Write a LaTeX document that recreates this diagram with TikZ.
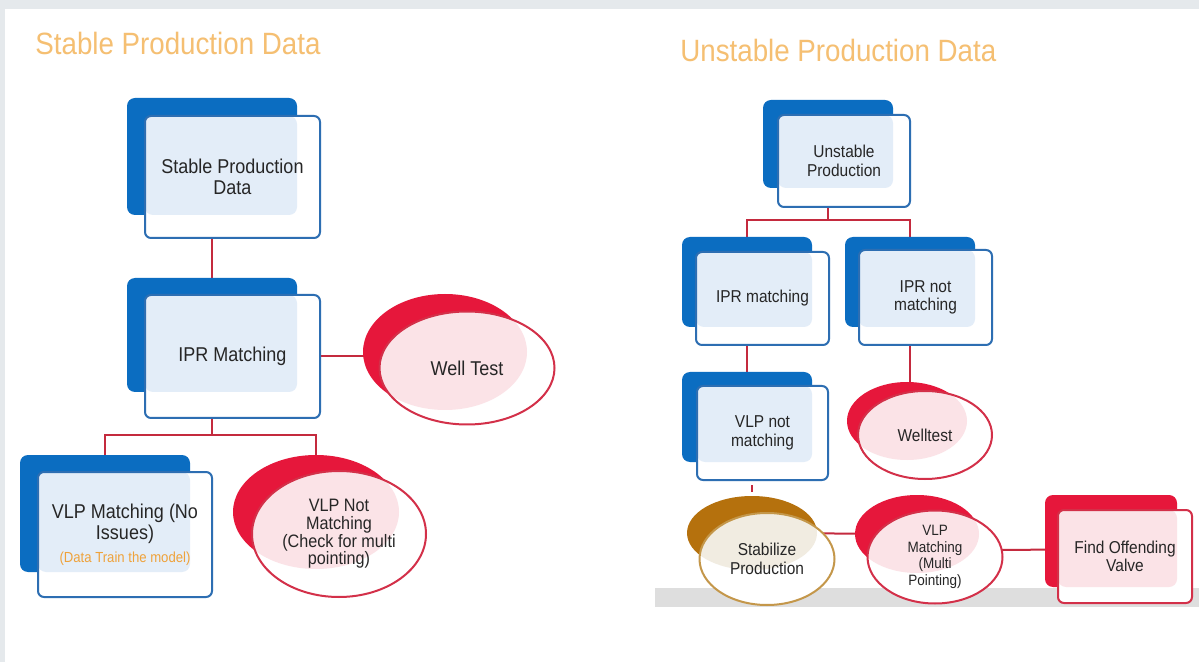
\documentclass[tikz,border=0pt]{standalone}
\usepackage{fontspec}
\setmainfont{Liberation Sans}[FakeStretch=0.9]
\usetikzlibrary{shapes.geometric, calc}
\usepackage{xcolor}

\definecolor{bluedeep}{HTML}{0B6DC1}
\definecolor{blueedge}{HTML}{2D6EB2}
\definecolor{bluepale}{HTML}{E3EDF8}
\definecolor{reddeep}{HTML}{E6173B}
\definecolor{rededge}{HTML}{D33049}
\definecolor{redpale}{HTML}{FBE3E7}
\definecolor{browndeep}{HTML}{B5710D}
\definecolor{goldedge}{HTML}{C4974A}
\definecolor{goldpale}{HTML}{F1ECE1}
\definecolor{linkred}{HTML}{C42A3E}
\definecolor{headorange}{HTML}{F5BF72}
\definecolor{noteorange}{HTML}{EFA23A}
\definecolor{inkgray}{HTML}{262626}
\definecolor{framegray}{HTML}{E5E9EC}
\definecolor{bargray}{HTML}{DEDEDE}

\pgfdeclarelayer{frame}
\pgfdeclarelayer{bg}
\pgfsetlayers{frame,bg,main}

\begin{document}
\begin{tikzpicture}[
    x=0.5pt, y=-0.5pt,
    wh/.style 2 args={minimum width=#1*0.5pt, minimum height=#2*0.5pt},
    backbox/.style={inner sep=0pt, outer sep=0pt, rounded corners=4pt},
    backoval/.style={ellipse, inner sep=0pt, outer sep=0pt},
    card/.style={inner sep=0pt, outer sep=0pt, rounded corners=3pt, fill=white, line width=1pt, align=center, text=inkgray},
    bluecard/.style={card, draw=blueedge, path picture={\fill[bluepale, rounded corners=4pt] (path picture bounding box.north west) rectangle (#1.south east);}},
    redcard/.style={card, draw=rededge, path picture={\fill[redpale, rounded corners=4pt] (path picture bounding box.north west) rectangle (#1.south east);}},
    oval/.style={ellipse, inner sep=0pt, outer sep=0pt, fill=white, line width=1pt, align=center, text=inkgray},
    redoval/.style={oval, draw=rededge, path picture={\fill[redpale] let \p1=($(#1.east)-(#1.center)$), \p2=($(#1.north)-(#1.center)$) in (#1.center) ellipse [x radius=\x1, y radius=\y2];}},
    goldoval/.style={oval, draw=goldedge, path picture={\fill[goldpale] let \p1=($(#1.east)-(#1.center)$), \p2=($(#1.north)-(#1.center)$) in (#1.center) ellipse [x radius=\x1, y radius=\y2];}},
    link/.style={draw=linkred, line width=1pt},
    heading/.style={anchor=base west, inner sep=0pt, text=headorange, font=\fontsize{15.4}{18}\selectfont},
    txtbig/.style={font=\fontsize{10}{10.5}\selectfont},
    txtmid/.style={font=\fontsize{9}{8.8}\selectfont},
    txtsmall/.style={font=\fontsize{8.6}{9.2}\selectfont},
    txttiny/.style={font=\fontsize{7.5}{8.3}\selectfont}
]
\useasboundingbox (0,0) rectangle (1199,662);

% page frame and floor bar
\begin{pgfonlayer}{frame}
\fill[framegray] (0,0) rectangle (1199,662);
\fill[white] (5,9) rectangle (1199,662);
\fill[bargray] (655,588) rectangle (1199,607);
\end{pgfonlayer}

\node[heading] (hstable) at (35,55) {Stable Production Data};
\node[heading] (hunstable) at (680,62) {Unstable Production Data};

% stable side
\node[backbox, fill=bluedeep, wh={170}{117}] (spdb) at (212,156.5) {};
\node[bluecard=spdb, wh={175}{122}, txtbig] (spd) at (232.5,177) {Stable Production\\Data};
\node[backbox, fill=bluedeep, wh={170}{114}] (iprb) at (212,335) {};
\node[bluecard=iprb, wh={175}{123}, txtbig] (ipr) at (232.5,356.5) {IPR Matching};
\node[backoval, fill=reddeep, wh={164}{116}] (wtb) at (445,352) {};
\node[redoval=wtb, wh={175}{113}, txtbig] (wt) at (467,368) {Well Test};
\node[backbox, fill=bluedeep, wh={170}{117}] (vmb) at (105,513.5) {};
\node[bluecard=vmb, wh={174}{125}, txtbig] (vm) at (125,534.5) {VLP Matching (No\\Issues)\\[1pt]{\color{noteorange}\fontsize{7.3}{8}\selectfont(Data Train the model)}};
\node[backoval, fill=reddeep, wh={166}{114}] (vnmb) at (316,512) {};
\node[redoval=vnmb, wh={174}{126}, txtmid] (vnm) at (339,534) {VLP Not\\Matching\\(Check for multi\\pointing)};

% unstable side
\node[backbox, fill=bluedeep, wh={130}{88}] (upb) at (828,144) {};
\node[bluecard=upb, wh={132}{92}, txtsmall] (up) at (844,161) {Unstable\\Production};
\node[backbox, fill=bluedeep, wh={130}{90}] (iprmb) at (747,282) {};
\node[bluecard=iprmb, wh={133}{93}, txtsmall] (iprm) at (762.5,298.5) {IPR matching};
\node[backbox, fill=bluedeep, wh={130}{90}] (iprnb) at (910,282) {};
\node[bluecard=iprnb, wh={133}{95}, txtsmall] (iprn) at (925.5,297.5) {IPR not\\matching};
\node[backbox, fill=bluedeep, wh={130}{90}] (vnmrb) at (747,417) {};
\node[bluecard=vnmrb, wh={131}{94}, txtsmall] (vnmr) at (762.5,433) {VLP not\\matching};
\node[backoval, fill=reddeep, wh={120}{78}] (welb) at (907,421) {};
\node[redoval=welb, wh={134}{88}, txtsmall] (wel) at (925,435) {Welltest};
\node[backoval, fill=browndeep, wh={130}{74}] (stabb) at (752,533) {};
\node[goldoval=stabb, wh={135}{92}, txtsmall] (stab) at (767,559) {Stabilize\\Production};
\node[backoval, fill=reddeep, wh={124}{78}] (vlpmb) at (917,534) {};
\node[redoval=vlpmb, wh={135}{93}, txttiny] (vlpm) at (935,557) {VLP\\Matching\\(Multi\\Pointing)};
\node[backbox, fill=reddeep, wh={132}{92}] (fovb) at (1111,541) {};
\node[redcard=fovb, wh={134}{93}, txtsmall] (fov) at (1125,556.5) {Find Offending\\Valve};

% connectors run underneath the shapes
\coordinate (forkl) at (212,435);
\coordinate (forkr) at (828,220);
\begin{pgfonlayer}{bg}
\draw[link] (spdb.center) -- (iprb.center);
\draw[link] (ipr.center) -- (ipr.center -| wtb.center);
\draw[link] (iprb.center) -- (forkl) -| (vmb.center);
\draw[link] (forkl) -| (vnmb.center);
\draw[link] (upb.center) -- (forkr) -| (iprmb.center);
\draw[link] (forkr) -| (iprnb.center);
\draw[link] (iprmb.center) -- (vnmrb.center);
\draw[link] (iprnb.center) -- (iprnb.center |- welb.center);
\draw[link] (stabb.center) -- (vlpmb.center);
\draw[link] ([yshift=3.5pt]vlpm.center) -- ([yshift=3.5pt]fov.center);
\end{pgfonlayer}
\draw[link, shorten <=2.5pt, shorten >=2pt] (stabb.north |- vnmr.south) -- (stabb.north);
\end{tikzpicture}
\end{document}
